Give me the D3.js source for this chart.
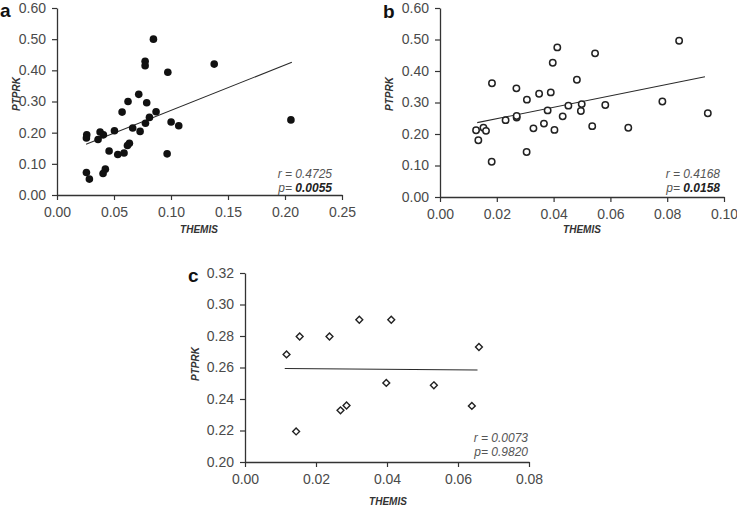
<!DOCTYPE html>
<html><head><meta charset="utf-8">
<script src="https://cdn.jsdelivr.net/npm/d3@7"></script>
<style>body{margin:0;background:#fff;}svg{display:block;font-family:Arial,"Liberation Sans",sans-serif;}</style>
</head><body>
<svg id="chart" width="737" height="506"></svg>
<script>
// ---------- DATA ----------
const aX = [0.0846,0.0773,0.0773,0.0972,0.0717,0.0623,0.0787,0.0571,0.0869,0.0811,0.1001,0.1068,0.0776,0.0664,0.0504,0.0729,0.0261,0.0258,0.0378,0.0407,0.0360,0.0635,0.0618,0.0457,0.0588,0.0533,0.0966,0.0258,0.0284,0.0424,0.0404,0.1379,0.2052];
const aY = [0.500,0.429,0.415,0.394,0.323,0.300,0.296,0.266,0.267,0.249,0.234,0.222,0.230,0.215,0.206,0.204,0.193,0.183,0.202,0.193,0.178,0.166,0.159,0.141,0.135,0.130,0.132,0.072,0.051,0.083,0.069,0.420,0.241];
const aLineX = [0.0255,0.206], aLineY = [0.163,0.426];
const aStats = {r:"0.4725", p:"0.0055"};

const bX = [0.0413,0.0546,0.0397,0.0482,0.0183,0.0269,0.0349,0.0390,0.0306,0.0379,0.0452,0.0499,0.0496,0.0582,0.0432,0.0270,0.0270,0.0231,0.0366,0.0329,0.0403,0.0536,0.0127,0.0153,0.0162,0.0135,0.0305,0.0182,0.0842,0.0783,0.0943,0.0663];
const bY = [0.475,0.456,0.426,0.372,0.361,0.345,0.328,0.332,0.309,0.275,0.290,0.295,0.273,0.292,0.256,0.252,0.257,0.244,0.233,0.218,0.213,0.225,0.212,0.220,0.210,0.180,0.143,0.112,0.496,0.303,0.266,0.220];
const bLineX = [0.0131,0.0933], bLineY = [0.236,0.382];
const bStats = {r:"0.4168", p:"0.0158"};

const cX = [0.0117,0.0154,0.0144,0.0238,0.0322,0.0412,0.0269,0.0286,0.0398,0.0532,0.0639,0.0659];
const cY = [0.2683,0.2797,0.2194,0.2797,0.2903,0.2903,0.2328,0.2359,0.2502,0.2487,0.2356,0.2730];
const cLineX = [0.0112,0.0655], cLineY = [0.2594,0.2584];
const cStats = {r:"0.0073", p:"0.9820"};

const aXTicks = [0,0.05,0.10,0.15,0.20,0.25], aYTicks = [0,0.1,0.2,0.3,0.4,0.5,0.6];
const bXTicks = [0,0.02,0.04,0.06,0.08,0.10], bYTicks = [0,0.1,0.2,0.3,0.4,0.5,0.6];
const cXTicks = [0,0.02,0.04,0.06,0.08], cYTicks = [0.20,0.22,0.24,0.26,0.28,0.30,0.32];

const xTitle = "THEMIS", yTitle = "PTPRK";

// ---------- DRAW ----------
const svg = d3.select("#chart");
const fmt = d3.format(".2f");
const AX = "#333", TXT = "#4a4a4a";

function panel(cfg){
  const x = d3.scaleLinear().domain(cfg.xd).range(cfg.xr);
  const y = d3.scaleLinear().domain(cfg.yd).range(cfg.yr);
  const g = svg.append("g");
  const xa = g.append("g").attr("transform",`translate(0,${cfg.yr[0]})`)
    .call(d3.axisBottom(x).tickValues(cfg.xt).tickFormat(fmt).tickSize(5).tickSizeOuter(0).tickPadding(7));
  const ya = g.append("g").attr("transform",`translate(${cfg.xr[0]},0)`)
    .call(d3.axisLeft(y).tickValues(cfg.yt).tickFormat(fmt).tickSize(5).tickSizeOuter(0).tickPadding(6));
  [xa,ya].forEach(a=>{
    a.select(".domain").attr("stroke",AX).attr("stroke-width",1.3);
    a.selectAll(".tick line").attr("stroke",AX).attr("stroke-width",1.2);
    a.selectAll("text").attr("fill",TXT).style("font-size","14px").style("font-family","Arial, 'Liberation Sans', sans-serif");
  });
  // regression line
  const lp = cfg.lx.map((v,i)=>[x(v), y(cfg.ly[i])]);
  g.append("path").attr("d", d3.line()(lp)).attr("stroke","#2a2a2a").attr("stroke-width",1.1).attr("fill","none");
  // points
  const pts = cfg.px.map((v,i)=>({x:v,y:cfg.py[i]}));
  if(cfg.marker==="filled"){
    g.selectAll("circle.pt").data(pts).join("circle").attr("class","pt")
      .attr("cx",d=>x(d.x)).attr("cy",d=>y(d.y)).attr("r",3.8).attr("fill","#111");
  } else if(cfg.marker==="open"){
    g.selectAll("circle.pt").data(pts).join("circle").attr("class","pt")
      .attr("cx",d=>x(d.x)).attr("cy",d=>y(d.y)).attr("r",3.2).attr("fill","#fff").attr("stroke","#222").attr("stroke-width",1.5);
  } else {
    const sym = d3.symbol().type(d3.symbolDiamond2).size(30);
    g.selectAll("path.pt").data(pts).join("path").attr("class","pt")
      .attr("transform",d=>`translate(${x(d.x)},${y(d.y)})`).attr("d",sym)
      .attr("fill","#fff").attr("stroke","#222").attr("stroke-width",1.4);
  }
  // titles
  g.append("text").attr("x",cfg.xtx).attr("y",cfg.xty).attr("text-anchor","middle")
    .style("font-size","10px").style("font-weight","bold").style("font-style","italic").attr("fill","#333").text(xTitle);
  g.append("text").attr("transform",`translate(${cfg.ytx},${cfg.yty}) rotate(-90)`).attr("text-anchor","middle")
    .style("font-size","10px").style("font-weight","bold").style("font-style","italic").attr("fill","#333").text(yTitle);
  // stats
  g.append("text").attr("x",cfg.sx).attr("y",cfg.sy).attr("text-anchor","end")
    .style("font-size","12px").style("font-style","italic").attr("fill","#555").text("r = "+cfg.st.r);
  const pt = g.append("text").attr("x",cfg.sx).attr("y",cfg.sy+14).attr("text-anchor","end")
    .style("font-size","12px").style("font-style","italic").attr("fill","#555");
  pt.append("tspan").text("p= ");
  pt.append("tspan").style("font-weight",cfg.pbold?"bold":"normal").attr("fill",cfg.pbold?"#222":"#555").text(cfg.st.p);
  // panel letter
  g.append("text").attr("x",cfg.lx0).attr("y",cfg.ly0).style("font-size","19px").style("font-weight","bold").attr("fill","#111").text(cfg.letter);
}

panel({xd:[0,0.25], xr:[57,342], yd:[0,0.6], yr:[195,8], xt:aXTicks, yt:aYTicks,
  px:aX, py:aY, lx:aLineX, ly:aLineY, marker:"filled", st:aStats, pbold:true,
  xtx:199, xty:233, ytx:20, yty:94, sx:332, sy:178, letter:"a", lx0:0, ly0:17});
panel({xd:[0,0.10], xr:[440,724], yd:[0,0.6], yr:[197,8], xt:bXTicks, yt:bYTicks,
  px:bX, py:bY, lx:bLineX, ly:bLineY, marker:"open", st:bStats, pbold:true,
  xtx:582, xty:233, ytx:393, yty:94, sx:720, sy:178, letter:"b", lx0:383, ly0:18});
panel({xd:[0,0.08], xr:[245,529], yd:[0.20,0.32], yr:[462,273], xt:cXTicks, yt:cYTicks,
  px:cX, py:cY, lx:cLineX, ly:cLineY, marker:"diamond", st:cStats, pbold:false,
  xtx:388, xty:505, ytx:199, yty:364, sx:528, sy:442, letter:"c", lx0:188, ly0:282});
</script>
</body></html>
